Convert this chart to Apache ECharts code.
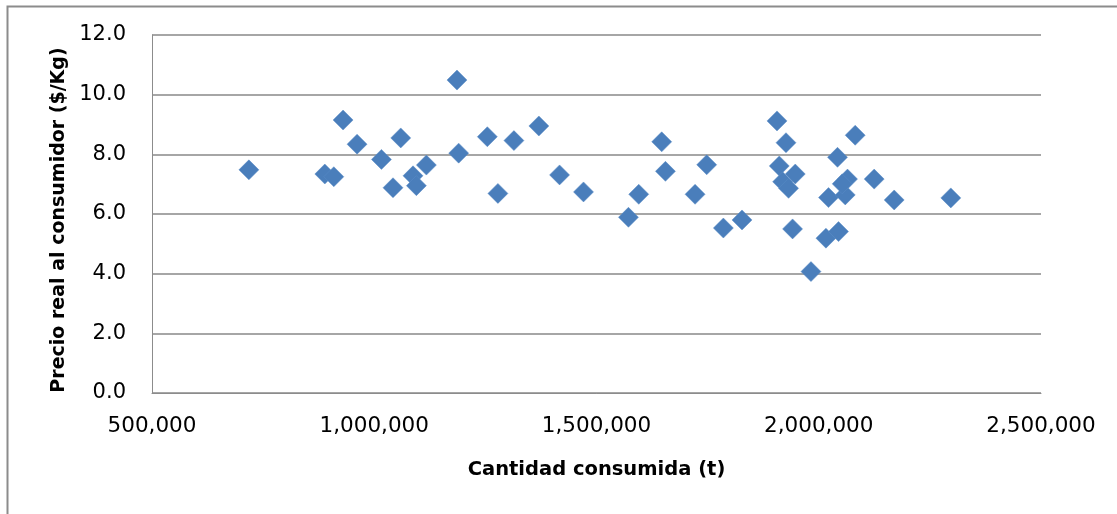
<!DOCTYPE html>
<html>
<head>
<meta charset="utf-8">
<script src="https://cdn.jsdelivr.net/npm/echarts@6/dist/echarts.min.js"></script>
<style>
html,body{margin:0;padding:0;background:#fff;}
#chart{width:1117px;height:514px;}
</style>
</head>
<body>
<div id="chart"></div>
<script>
// Cantidad consumida (t)
const cantidad = [
  718000, 888800, 909000, 929900, 961300, 1016200, 1059600, 1042200, 1087200, 1094800,
  1117300, 1186100, 1189900, 1254400, 1278200, 1314200, 1370300, 1416900, 1470800, 1571900,
  1595100, 1646700, 1655100, 1721800, 1747900, 1785400, 1827400, 1906100, 1926300, 1911200,
  1947200, 1918700, 1932100, 1941100, 1982500, 2016200, 2044500, 2022000, 2042200, 2082000,
  2059600, 2064700, 2052800, 2124700, 2169700, 2297100
];
// Precio real al consumidor ($/Kg)
const precio = [
  7.48, 7.34, 7.25, 9.15, 8.34, 7.83, 8.55, 6.88, 7.28, 6.95,
  7.64, 10.49, 8.04, 8.59, 6.69, 8.46, 8.95, 7.31, 6.74, 5.89,
  6.66, 8.42, 7.43, 6.66, 7.65, 5.53, 5.80, 9.12, 8.39, 7.61,
  7.34, 7.08, 6.86, 5.50, 4.07, 5.19, 5.41, 6.55, 7.90, 8.64,
  6.64, 7.17, 7.01, 7.17, 6.47, 6.54
];
const xTitle = 'Cantidad consumida (t)';
const yTitle = 'Precio real al consumidor ($/Kg)';

const points = cantidad.map((c, i) => [c, precio[i]]);

const chart = echarts.init(document.getElementById('chart'), null, {renderer: 'canvas'});
const FONT = 'DejaVu Sans';
chart.setOption({
  animation: false,
  backgroundColor: '#ffffff',
  graphic: [{
    type: 'rect',
    left: 5, top: 4,
    shape: {x: 0, y: 0, width: 1200, height: 600},
    style: {fill: 'none', stroke: '#8c8c8c', lineWidth: 2},
    silent: true
  }],
  grid: {left: 152, right: 76, top: 35, bottom: 121, containLabel: false},
  xAxis: {
    type: 'value',
    min: 500000, max: 2500000, interval: 500000,
    name: xTitle,
    nameLocation: 'middle',
    nameGap: 67,
    nameTextStyle: {fontFamily: FONT, fontSize: 19.5, fontWeight: 'bold', color: '#000'},
    axisLine: {show: true, lineStyle: {color: '#8c8c8c', width: 1}},
    axisTick: {show: false},
    splitLine: {show: false},
    axisLabel: {
      fontFamily: FONT, fontSize: 21.5, color: '#000', margin: 22,
      formatter: v => v.toLocaleString('en-US')
    }
  },
  yAxis: {
    type: 'value',
    min: 0, max: 12, interval: 2,
    name: yTitle,
    nameLocation: 'middle',
    nameGap: 82,
    nameRotate: 90,
    nameTextStyle: {fontFamily: FONT, fontSize: 19, fontWeight: 'bold', color: '#000', padding: [0, 12, 0, 0]},
    axisLine: {show: true, lineStyle: {color: '#8c8c8c', width: 1}},
    axisTick: {show: false},
    splitLine: {show: true, lineStyle: {color: '#a6a6a6', width: 2}},
    axisLabel: {
      fontFamily: FONT, fontSize: 21, color: '#000', margin: 26,
      formatter: v => v.toFixed(1)
    }
  },
  series: [{
    type: 'scatter',
    data: points,
    symbol: 'diamond',
    symbolSize: 20,
    itemStyle: {color: '#4a7ebb', opacity: 1, borderColor: '#5b8cc6', borderWidth: 0.5}
  }]
});
</script>
</body>
</html>
